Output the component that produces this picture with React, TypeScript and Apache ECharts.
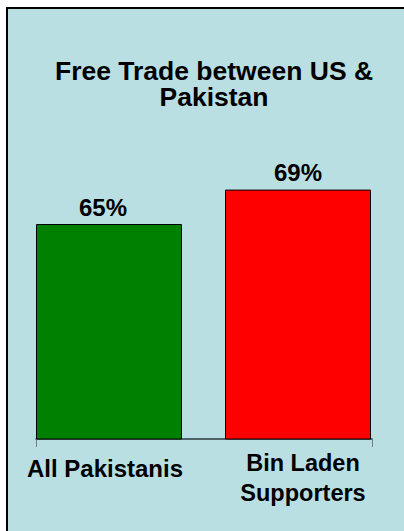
import React, { useEffect, useRef } from "react";
import * as echarts from "echarts";

const titleText = "Free Trade between US &\nPakistan";
const categories = ["All Pakistanis", "Bin Laden\nSupporters"];
const values = [65, 69];
const barColors = ["#008000", "#ff0000"];
const yMin = 40;
const yMax = 70;

const FONT = "'Liberation Sans', Arial, Helvetica, sans-serif";

export default function App() {
  const ref = useRef<HTMLDivElement>(null);
  useEffect(() => {
    if (!ref.current) return;
    const chart = echarts.init(ref.current, undefined, { renderer: "svg" });
    const labelOffsets = [[-6, 0], [0, 0]];
    chart.setOption({
      animation: false,
      backgroundColor: "#ffffff",
      graphic: [
        {
          type: "rect",
          z: -10,
          shape: { x: 7, y: 8, width: 430, height: 560 },
          style: { fill: "#badfe3", stroke: "#000000", lineWidth: 2 },
          silent: true,
        },
      ],
      title: {
        text: titleText,
        left: 209,
        top: 53,
        padding: 5,
        textAlign: "center",
        textStyle: {
          fontFamily: FONT,
          fontWeight: "bold",
          fontSize: 26.5,
          lineHeight: 26,
          color: "#000",
        },
      },
      grid: [
        { left: 14.5, right: 11.5, top: 181, bottom: 92 },
        { left: 36, right: 32, top: 181, bottom: 92 },
      ],
      xAxis: [
        {
          type: "category",
          gridIndex: 0,
          data: categories,
          axisLine: { show: false },
          axisTick: { show: false },
          axisLabel: {
            margin: 9,
            fontFamily: FONT,
            fontWeight: "bold",
            fontSize: 24,
            lineHeight: 30,
            color: "#000",
            interval: 0,
            formatter: (val: string, idx: number) =>
              idx === 0
                ? `{a|${val}}`
                : val
                    .split("\n")
                    .map((l) => `{b|${l}}`)
                    .join("\n"),
            rich: {
              a: {
                fontFamily: FONT,
                fontWeight: "bold",
                fontSize: 24,
                lineHeight: 30,
                color: "#000",
                padding: [10, 8, 0, 0],
              },
              b: {
                fontFamily: FONT,
                fontWeight: "bold",
                fontSize: 23.5,
                lineHeight: 30,
                color: "#000",
                padding: [0, 0, 0, 10],
              },
            },
          },
        },
        {
          type: "category",
          gridIndex: 1,
          data: [""],
          boundaryGap: true,
          axisLine: { show: true, lineStyle: { color: "#2e3b3e", width: 1.5 } },
          axisTick: { show: true, length: 8, lineStyle: { color: "#6f7f82", width: 1 } },
          axisLabel: { show: false },
        },
      ],
      yAxis: [
        { type: "value", gridIndex: 0, min: yMin, max: yMax, show: false },
        { type: "value", gridIndex: 1, min: yMin, max: yMax, show: false },
      ],
      series: [
        {
          type: "bar",
          xAxisIndex: 0,
          yAxisIndex: 0,
          barWidth: 146,
          clip: true,
          data: values.map((v, i) => ({
            value: v,
            itemStyle: { color: barColors[i], borderColor: "#000", borderWidth: 1 },
            label: { offset: labelOffsets[i] },
          })),
          label: {
            show: true,
            position: "top",
            distance: 5,
            formatter: (p: any) => `${p.value}%`,
            fontFamily: FONT,
            fontWeight: "bold",
            fontSize: 24,
            color: "#000",
          },
        },
      ],
    });
    return () => chart.dispose();
  }, []);
  return (
    <div
      ref={ref}
      style={{ position: "absolute", left: 0, top: 0, width: 404, height: 531 }}
    />
  );
}
